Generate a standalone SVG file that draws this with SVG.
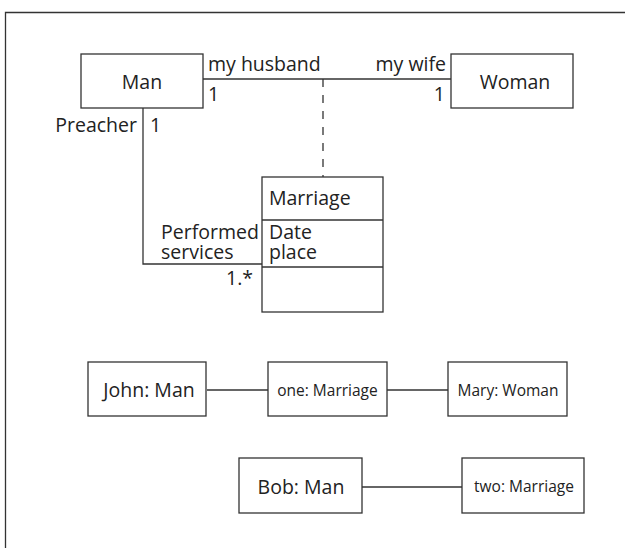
<svg xmlns="http://www.w3.org/2000/svg" width="625" height="548" viewBox="0 0 625 548">
<style>
.box{fill:#fff;stroke:#333;stroke-width:1.3}
.ln{fill:none;stroke:#333;stroke-width:1.3}
.dash{fill:none;stroke:#333;stroke-width:1.3;stroke-dasharray:8,8}
text{font-family:"Open Sans","Noto Sans",sans-serif;font-size:19.5px;fill:#222}
.sm{font-size:15.5px}
</style>
<rect width="625" height="548" fill="#fff"/>
<path class="ln" d="M5.5,548 V12.5 H625"/>
<g id="connectors">
<line class="ln" x1="203" y1="79" x2="451" y2="79"/>
<line class="dash" x1="323" y1="79" x2="323" y2="177"/>
<polyline class="ln" points="143,108 143,264 262,264"/>
<line class="ln" x1="207" y1="390" x2="268" y2="390"/>
<line class="ln" x1="387" y1="390" x2="448" y2="390"/>
<line class="ln" x1="362" y1="487" x2="462" y2="487"/>
<text x="208" y="71">my husband</text>
<text x="446" y="71" text-anchor="end">my wife</text>
<text x="208" y="101">1</text>
<text x="445" y="101" text-anchor="end">1</text>
<text x="137" y="132" text-anchor="end">Preacher</text>
<text x="150" y="132">1</text>
<text x="161" y="239">Performed</text>
<text x="161" y="259">services</text>
<text x="253" y="285" text-anchor="end">1.*</text>
</g>
<g id="man"><rect class="box" x="81" y="54" width="122" height="54"/><text x="142" y="89" text-anchor="middle">Man</text></g>
<g id="woman"><rect class="box" x="451" y="54" width="122" height="54"/><text x="515" y="89" text-anchor="middle">Woman</text></g>
<g id="marriage">
<rect class="box" x="262" y="177" width="121" height="135"/>
<line class="ln" x1="262" y1="220" x2="383" y2="220"/>
<line class="ln" x1="262" y1="267" x2="383" y2="267"/>
<text x="269" y="205">Marriage</text>
<text x="269" y="239">Date</text>
<text x="269" y="259">place</text>
</g>
<g id="john"><rect class="box" x="88" y="362" width="118" height="54"/><text x="149" y="397" text-anchor="middle">John: Man</text></g>
<g id="one"><rect class="box" x="268" y="362" width="119" height="54"/><text class="sm" x="327.5" y="396" text-anchor="middle">one: Marriage</text></g>
<g id="mary"><rect class="box" x="448" y="362" width="119" height="54"/><text class="sm" x="508" y="396" text-anchor="middle">Mary: Woman</text></g>
<g id="bob"><rect class="box" x="239" y="458" width="123" height="55"/><text x="301" y="494" text-anchor="middle">Bob: Man</text></g>
<g id="two"><rect class="box" x="462" y="458" width="122" height="55"/><text class="sm" x="524" y="492" text-anchor="middle">two: Marriage</text></g>
</svg>
